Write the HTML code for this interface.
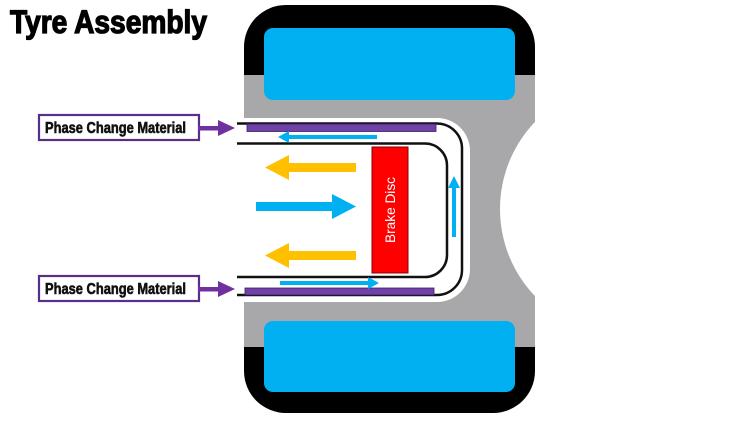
<!DOCTYPE html>
<html><head><meta charset="utf-8"><style>
html,body{margin:0;padding:0;background:#fff;}
svg{display:block;}
</style></head><body>
<svg width="730" height="423" viewBox="0 0 730 423" xmlns="http://www.w3.org/2000/svg">
<rect width="730" height="423" fill="#fff"/>
<!-- tyre -->
<rect x="244" y="5" width="291" height="408" rx="42" fill="#000"/>
<rect x="244" y="75" width="291" height="272" fill="#a8a7a9"/>
<rect x="264" y="28" width="251" height="72" rx="9" fill="#00b0f0"/>
<rect x="264" y="321" width="251" height="71" rx="9" fill="#00b0f0"/>
<!-- white channel -->
<rect x="236" y="118" width="234" height="184" rx="33" fill="#fff"/>
<rect x="236" y="118" width="40" height="184" fill="#fff"/>
<circle cx="626" cy="209" r="126" fill="#fff"/>
<rect x="535" y="0" width="195" height="423" fill="#fff"/>
<!-- outer line -->
<path d="M237 123.5 H437 A25 25 0 0 1 462 148.5 V270 A25 25 0 0 1 437 295 H237" fill="none" stroke="#111" stroke-width="2.5"/>
<!-- inner line -->
<path d="M237 143.5 H425 A22 22 0 0 1 447 165.5 V255 A22 22 0 0 1 425 277 H237" fill="none" stroke="#111" stroke-width="2.5"/>
<!-- purple bars -->
<rect x="247" y="124" width="189" height="7.5" fill="#7041a8" stroke="#3a2060" stroke-width="0.8"/>
<rect x="245" y="288" width="189" height="7" fill="#7041a8" stroke="#3a2060" stroke-width="0.8"/>
<!-- small blue arrows -->
<rect x="287" y="135" width="90" height="4" fill="#00b0f0"/>
<polygon points="278,137 289,131 289,143" fill="#00b0f0"/>
<rect x="280" y="281" width="90" height="4" fill="#00b0f0"/>
<polygon points="379,283 368,277 368,289" fill="#00b0f0"/>
<rect x="452" y="186" width="4" height="51" fill="#00b0f0"/>
<polygon points="454,176 448,188 460,188" fill="#00b0f0"/>
<!-- big arrows -->
<rect x="287" y="163" width="69" height="9" fill="#ffc000"/>
<polygon points="265,167.5 289,155 289,180" fill="#ffc000"/>
<rect x="287" y="251" width="69" height="9" fill="#ffc000"/>
<polygon points="265,255.5 289,243 289,268" fill="#ffc000"/>
<rect x="256" y="202" width="78" height="9" fill="#00b0f0"/>
<polygon points="356,206.5 332,194 332,219" fill="#00b0f0"/>
<!-- brake disc -->
<rect x="372" y="147" width="36" height="126" fill="#ff0000" stroke="#8a0000" stroke-width="1"/>
<text x="0" y="0" transform="translate(395,210) rotate(-90)" text-anchor="middle" font-family="Liberation Sans, sans-serif" font-size="14" fill="#fff" textLength="66" lengthAdjust="spacingAndGlyphs">Brake Disc</text>
<!-- labels -->
<rect x="39" y="115" width="160" height="25" fill="#fff" stroke="#5b2d8a" stroke-width="2.2"/>
<text x="45" y="133" font-family="Liberation Sans Narrow, Liberation Sans, sans-serif" font-weight="bold" font-size="16" fill="#111" stroke="#111" stroke-width="0.6" textLength="141" lengthAdjust="spacingAndGlyphs">Phase Change Material</text>
<rect x="198" y="126" width="22" height="4.5" fill="#7030a0"/>
<polygon points="235,128 218,120 218,136" fill="#7030a0"/>
<rect x="39" y="276" width="160" height="25" fill="#fff" stroke="#5b2d8a" stroke-width="2.2"/>
<text x="45" y="294" font-family="Liberation Sans Narrow, Liberation Sans, sans-serif" font-weight="bold" font-size="16" fill="#111" stroke="#111" stroke-width="0.6" textLength="141" lengthAdjust="spacingAndGlyphs">Phase Change Material</text>
<rect x="198" y="287" width="22" height="4.5" fill="#7030a0"/>
<polygon points="235,289 218,281 218,297" fill="#7030a0"/>
<!-- title -->
<text x="10" y="33" font-family="Liberation Sans Narrow, Liberation Sans, sans-serif" font-weight="bold" font-size="32" fill="#000" stroke="#000" stroke-width="1.3" textLength="197" lengthAdjust="spacingAndGlyphs">Tyre Assembly</text>
</svg>
</body></html>
